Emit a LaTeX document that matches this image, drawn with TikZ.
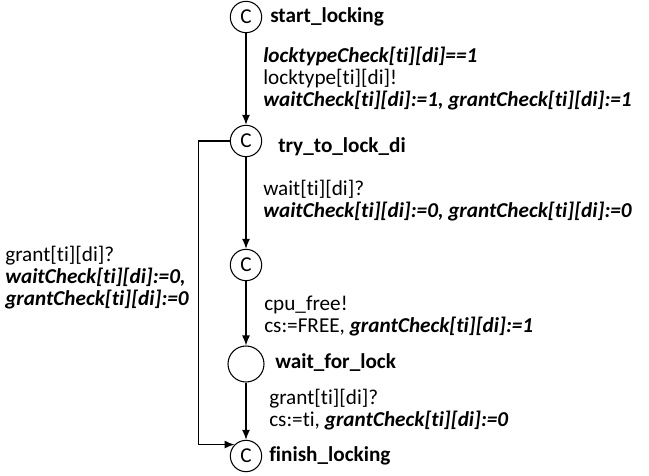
\documentclass[tikz,border=0pt]{standalone}
\usepackage{fontspec}
\setmainfont{Carlito}[Ligatures={NoCommon}]
\usetikzlibrary{arrows.meta}

\newcommand{\upd}[1]{\textbf{\textit{#1}}}

\begin{document}
\begin{tikzpicture}[x=0.75pt, y=-0.75pt, >={Latex[length=7.5pt,width=6pt]},
    locnode/.style={circle, draw, line width=0.8pt, minimum size=23.5pt, inner sep=0pt,
        font=\fontsize{15.9}{16.5}\selectfont},
    lbl/.style={anchor=west, inner sep=0pt, align=left, font=\fontsize{15.9}{16.5}\selectfont},
    locname/.style={lbl, font=\fontsize{15.9}{16.5}\selectfont\bfseries},
    edge/.style={->, line width=1pt}]

\useasboundingbox (0,0) rectangle (649,475);

% locations
\node[locnode] (start) at (246,17) {C};
\node[locnode] (try) at (246,141) {C};
\node[locnode] (mid) at (246,265) {C};
\node[locnode, minimum size=27pt] (wait) at (246,364) {};
\node[locnode] (finish) at (246,456) {C};

\node[locname] (startname) at (270,17) {start\_locking};
\node[locname] (tryname) at (278,147) {try\_to\_lock\_di};
\node[locname] (waitname) at (275,363) {wait\_for\_lock};
\node[locname] (finishname) at (269,456) {finish\_locking};

% edges
\draw[edge] (start) -- (try);
\draw[edge] (try) -- (mid);
\draw[edge] (mid) -- (wait);
\draw[edge] (wait) -- (finish);
\draw[edge] (try.west) -- ++(-31,0) |- (finish.135);

% edge labels
\node[lbl] (lblone) at (263,79) {\upd{locktypeCheck[ti][di]==1}\\
    locktype[ti][di]!\\
    \upd{waitCheck[ti][di]:=1, grantCheck[ti][di]:=1}};
\node[lbl] (lbltwo) at (263,201) {wait[ti][di]?\\
    \upd{waitCheck[ti][di]:=0, grantCheck[ti][di]:=0}};
\node[lbl] (lblthree) at (264,316) {cpu\_free!\\
    cs:=FREE, \upd{grantCheck[ti][di]:=1}};
\node[lbl] (lblfour) at (269,410) {grant[ti][di]?\\
    cs:=ti, \upd{grantCheck[ti][di]:=0}};
\node[lbl] (lblback) at (5,278) {grant[ti][di]?\\
    \upd{waitCheck[ti][di]:=0,}\\
    \upd{grantCheck[ti][di]:=0}};

\end{tikzpicture}
\end{document}
